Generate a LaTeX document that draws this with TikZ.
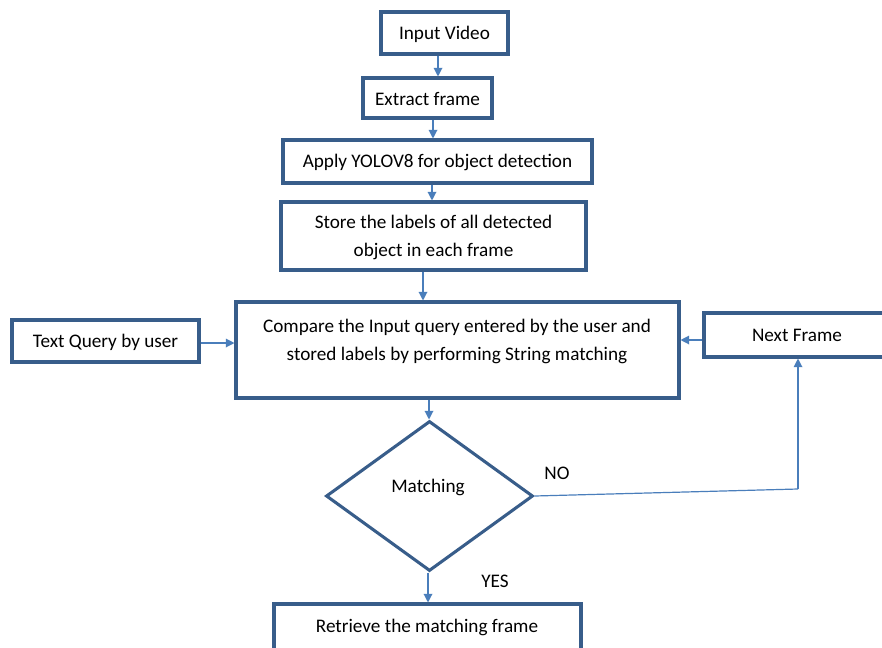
\documentclass[tikz,border=0pt]{standalone}
\usepackage{fontspec}
\setmainfont{Carlito}
\usetikzlibrary{shapes.geometric,arrows.meta}
\definecolor{boxc}{RGB}{56,93,138}
\definecolor{arrc}{RGB}{74,126,187}
\begin{document}
\begin{tikzpicture}[x=0.75pt,y=-0.75pt,
  box/.style={draw=boxc,line width=2.3pt,fill=white,inner sep=0pt,align=center,font=\fontsize{14.4}{21}\selectfont},
  txt/.style={inner sep=0pt,align=center,font=\fontsize{14.4}{21}\selectfont},
  arr/.style={draw=arrc,line width=0.9pt,-{Triangle[length=6.5pt,width=6.5pt]}},
  ln/.style={draw=arrc,line width=0.9pt}]
\useasboundingbox (0,0) rectangle (882,647);
\node[box,minimum width=95.25pt,minimum height=31.5pt] (iv) at (444.5,33) {};
\node[txt] (ivt) at (444.5,34) {Input Video};
\node[box,minimum width=96.75pt,minimum height=30pt] (ef) at (427.5,98) {};
\node[txt] (eft) at (427.5,99) {Extract frame};
\node[box,minimum width=231.75pt,minimum height=32.25pt] (ay) at (437.5,161.5) {};
\node[txt] (ayt) at (437.5,162) {Apply YOLOV8 for object detection};
\node[box,minimum width=228.75pt,minimum height=51pt] (st) at (433.5,236) {};
\node[txt] (stt) at (433.5,237) {Store the labels of all detected\\object in each frame};
\node[box,minimum width=332.25pt,minimum height=72pt] (cm) at (457.5,350) {};
\node[txt] (cmt) at (457,341) {Compare the Input query entered by the user and\\stored labels by performing String matching};
\node[box,minimum width=140.25pt,minimum height=31.5pt] (tq) at (105.5,341) {};
\node[txt] (tqt) at (105.5,342) {Text Query by user};
\node[box,minimum width=141pt,minimum height=33pt] (nf) at (798,335) {};
\node[txt] (nft) at (797,335) {Next Frame};
\node[box,shape=diamond,minimum width=155.25pt,minimum height=112.5pt] (dm) at (429.5,496) {};
\node[txt] (dmt) at (428,487) {Matching};
\node[box,minimum width=230.25pt,minimum height=39pt] (rt) at (427.5,630) {};
\node[txt] (rtt) at (427,627) {Retrieve the matching frame};
\node[txt] (no) at (557,473) {NO};
\node[txt] (yes) at (495,581) {YES};
\coordinate (cr) at (798,489);
\draw[arr] (438,0 |- iv.south) -- (438,0 |- ef.north);
\draw[arr] (433,0 |- ef.south) -- (433,0 |- ay.north);
\draw[arr] (432,0 |- ay.south) -- (432,0 |- st.north);
\draw[arr] (423,0 |- st.south) -- (423,0 |- cm.north);
\draw[arr] (429,0 |- cm.south) -- (429,0 |- dm.north);
\draw[arr] (428,0 |- dm.south) -- (428,0 |- rt.north);
\draw[arr] (tq.east |- 0,343) -- (cm.west |- 0,343);
\draw[arr] (nf.west |- 0,340) -- (cm.east |- 0,340);
\draw[ln] (dm.east) -- (cr);
\draw[arr] (cr) -- (nf.south);
\end{tikzpicture}
\end{document}
